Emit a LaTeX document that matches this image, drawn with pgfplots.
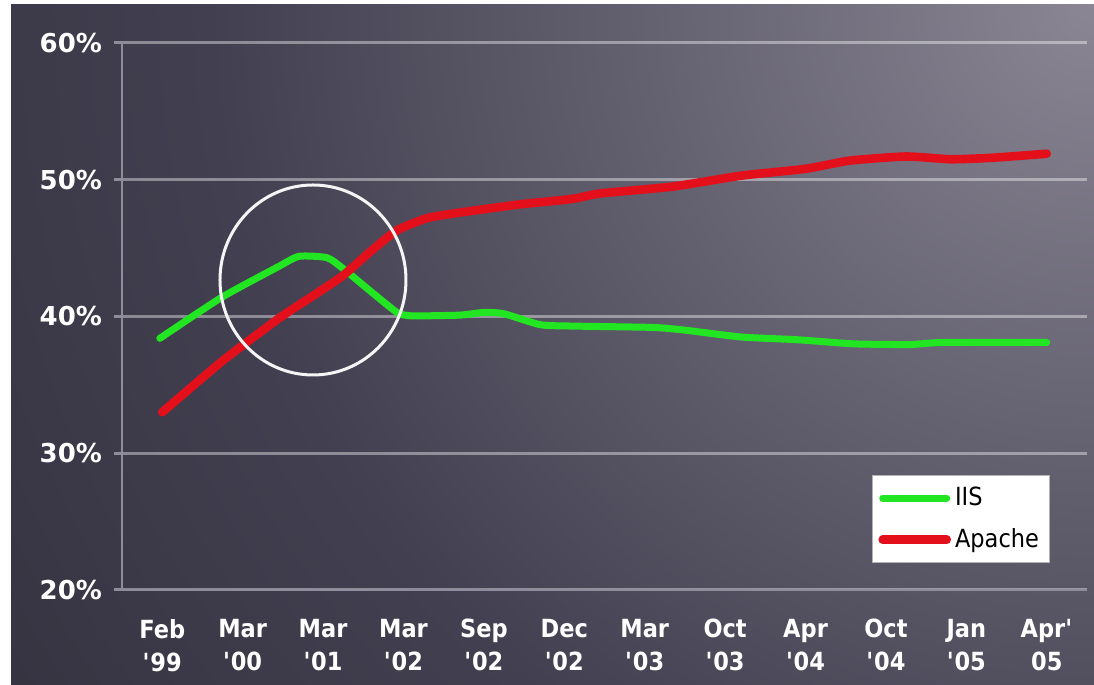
\documentclass[border=0pt]{standalone}
\usepackage{fontspec}
\setmainfont{DejaVu Sans}[FakeStretch=0.9]
\newfontfamily\ylabfont{DejaVu Sans}[FakeStretch=1.0]
\usepackage{pgfplots}
\pgfplotsset{compat=1.18}

\definecolor{bgl}{HTML}{8A8694}
\definecolor{bgm}{HTML}{625F6E}
\definecolor{bgd}{HTML}{424050}
\definecolor{bgdd}{HTML}{363341}
\definecolor{iis}{HTML}{22E622}
\definecolor{apache}{HTML}{E3101C}
\definecolor{gridc}{HTML}{8F8C9C}

\pgfdeclareradialshading{bgshade}{\pgfpoint{0bp}{0bp}}{color(0bp)=(bgl); color(9bp)=(bgm); color(17bp)=(bgd); color(25bp)=(bgdd); color(50bp)=(bgdd)}

\newcommand{\q}{\textquotesingle}
\begin{document}
\begin{tikzpicture}[x=0.5pt,y=0.5pt]
\fill[white] (0,0) rectangle (1094,685);
\begin{scope}
\clip (11,0) rectangle (1094,680);
\shade[shading=bgshade] (1094,680) circle (1300);
\end{scope}
\begin{axis}[
  at={(61pt,47.5pt)}, anchor=south west,
  width=482.5pt, height=273.5pt, scale only axis,
  xmin=0, xmax=12, ymin=20, ymax=60,
  axis x line*=bottom, axis y line*=left,
  axis line style={-, draw=gridc, line width=1pt},
  xtick={0.5,1.5,...,11.5},
  xticklabels={{Feb\\\q99},{Mar\\\q00},{Mar\\\q01},{Mar\\\q02},{Sep\\\q02},{Dec\\\q02},{Mar\\\q03},{Oct\\\q03},{Apr\\\q04},{Oct\\\q04},{Jan\\\q05},{Apr\q\\05}},
  x tick label style={align=center, font=\bfseries\fontsize{12.5}{16.5}\selectfont, text=white, yshift=-7pt},
  major x tick style={draw=none},
  extra x ticks={0,1,...,12},
  extra x tick labels={},
  extra x tick style={major tick length=4pt, tick align=outside, tick style={draw=gridc, line width=0.8pt}},
  ytick={20,30,40,50,60},
  yticklabels={20\%,30\%,40\%,50\%,60\%},
  y tick label style={font=\ylabfont\bfseries\fontsize{13}{15}\selectfont, text=white, xshift=-2.5pt},
  ymajorgrids,
  grid style={draw=white, opacity=0.4, line width=1.5pt},
  major y tick style={draw=gridc, line width=1.5pt},
  major tick length=4pt, tick align=outside,
  legend style={at={(0.961,0.049)}, anchor=south east, draw=gray!60, fill=white,
    font=\fontsize{12.5}{14}\selectfont, text=black, inner xsep=3pt, inner ysep=4pt,
    row sep=6pt},
  legend cell align=left,
  legend image code/.code={\draw[#1] (0pt,0pt) -- (32pt,0pt);},
]
\addplot[iis, line width=3.5pt, smooth, tension=0.35, line cap=round, line join=round] coordinates {
(0.47,38.4) (1.24,41.4) (1.93,43.6) (2.2,44.4) (2.55,44.3) (2.75,43.5) (3.08,41.9) (3.42,40.3) (3.6,40.05) (4.2,40.1) (4.5,40.3) (4.75,40.2) (5.2,39.4) (5.6,39.3) (6.6,39.2) (7.0,39.0) (7.7,38.5) (8.4,38.3) (9.1,38.0) (9.8,37.95) (10.2,38.1) (11.5,38.1)
};
\addlegendentry{IIS}
\addplot[apache, line width=4.3pt, smooth, tension=0.35, line cap=round, line join=round] coordinates {
(0.5,33.0) (1.26,36.8) (1.96,39.9) (2.45,41.8) (2.75,43.0) (3.1,44.8) (3.42,46.3) (3.8,47.2) (4.2,47.6) (4.95,48.2) (5.6,48.6) (5.95,49.0) (6.85,49.5) (7.7,50.3) (8.5,50.8) (9.05,51.4) (9.75,51.7) (10.3,51.5) (10.8,51.6) (11.5,51.9)
};
\addlegendentry{Apache}
\draw[white!92!gray, line width=1.5pt] (axis cs:2.375,42.67) ellipse [x radius=46.5pt, y radius=47.5pt];
\end{axis}
\end{tikzpicture}
\end{document}
